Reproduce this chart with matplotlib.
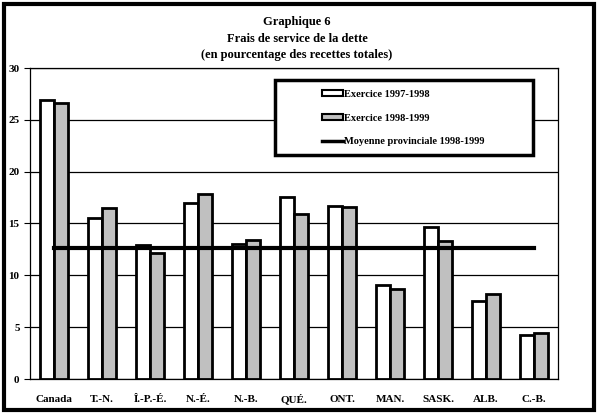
import numpy as np
import matplotlib
matplotlib.use("Agg")
import matplotlib.pyplot as plt
from matplotlib.patches import Patch, Rectangle
from matplotlib.lines import Line2D

plt.rcParams["font.family"] = ["Liberation Serif", "DejaVu Serif"]
plt.rcParams["font.weight"] = "bold"

# données
provinces = ["Canada", "T.-N.", "Î.-P.-É.", "N.-É.", "N.-B.", "QUÉ.",
             "ONT.", "MAN.", "SASK.", "ALB.", "C.-B."]
exercice_9798 = [26.9, 15.5, 12.9, 17.0, 13.0, 17.6, 16.7, 9.1, 14.7, 7.5, 4.2]
exercice_9899 = [26.6, 16.5, 12.2, 17.8, 13.4, 15.9, 16.6, 8.7, 13.3, 8.2, 4.4]
moyenne_prov = 12.6
titre = ["Graphique 6", "Frais de service de la dette",
         "(en pourcentage des recettes totales)"]

fig = plt.figure(figsize=(5.99, 4.15), dpi=100)
# cadre épais autour de la figure
fig.patches.append(Rectangle((0.006, 0.012), 0.985, 0.978, transform=fig.transFigure,
                             fill=False, lw=3, edgecolor="black"))

ax = fig.add_axes([30 / 599, 1 - 379 / 415, 528 / 599, 311 / 415])
x = np.arange(len(provinces))
w = 0.29
ax.bar(x - w / 2, exercice_9798, w, color="white", edgecolor="black", lw=2,
       zorder=3)
ax.bar(x + w / 2, exercice_9899, w, color="#c0c0c0", edgecolor="black", lw=2,
       zorder=3)
ax.plot([0, len(provinces) - 1], [moyenne_prov, moyenne_prov], color="black",
        lw=3, zorder=4)

ax.set_xlim(-0.5, len(provinces) - 0.5)
ax.set_ylim(0, 30)
ax.set_yticks(range(0, 31, 5))
ax.yaxis.grid(True, color="black", lw=0.9, zorder=0)
ax.set_xticks(x)
ax.set_xticklabels(provinces, fontsize=8, fontweight="bold", va="baseline")
ax.tick_params(axis="y", labelsize=8, length=4, width=0.8)
ax.tick_params(axis="x", length=0, pad=16.5)
for s in ax.spines.values():
    s.set_linewidth(0.9)

for i, t in enumerate(titre):
    fig.text(0.496, 1 - (25 + 16.5 * i) / 415, t, ha="center", va="baseline",
             fontsize=9, fontweight="bold")

# cadre de la légende
ax.add_patch(Rectangle(((275 - 30) / 528, (379 - 155) / 311), 258 / 528, 75 / 311,
                       transform=ax.transAxes, facecolor="white",
                       edgecolor="black", lw=2.5, zorder=5))
handles = [Patch(facecolor="white", edgecolor="black", lw=1.5),
           Patch(facecolor="#c0c0c0", edgecolor="black", lw=1.5),
           Line2D([0], [0], color="black", lw=2.5)]
labels = ["Exercice 1997-1998", "Exercice 1998-1999",
          "Moyenne provinciale 1998-1999"]
leg = ax.legend(handles, labels, loc="upper left",
                bbox_to_anchor=((322 - 30) / 528, (379 - 90) / 311),
                fontsize=7.5, frameon=False, handlelength=2.0,
                handleheight=0.55, handletextpad=0.15, labelspacing=1.4,
                borderpad=0, borderaxespad=0)
leg.set_zorder(6)

fig.savefig("out.png", dpi=100)
